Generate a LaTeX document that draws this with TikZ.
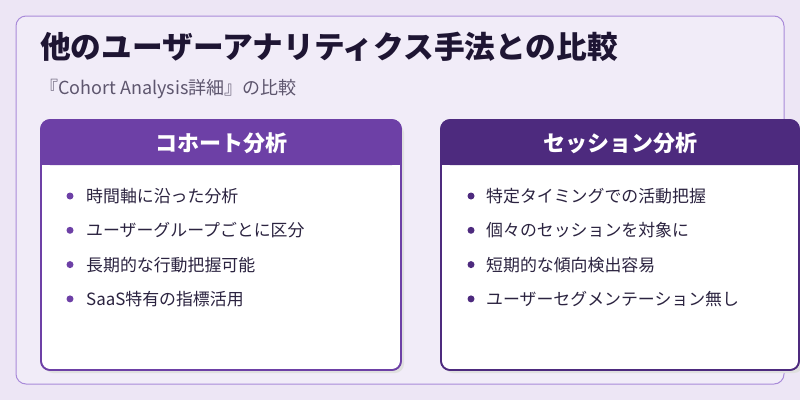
\documentclass[tikz,border=0pt]{standalone}
\usepackage{fontspec}
\setmainfont{Noto Sans CJK JP}
\definecolor{bg}{HTML}{EDE6F5}
\definecolor{panel}{HTML}{F1ECF8}
\definecolor{pborder}{HTML}{A98BD9}
\definecolor{hleft}{HTML}{6D40A6}
\definecolor{hright}{HTML}{4D2A7E}
\definecolor{ttl}{HTML}{1E1533}
\definecolor{sub}{HTML}{5E566E}
\definecolor{txt}{HTML}{2B2340}
\tikzset{
  card/.style={draw=#1,line width=1.6pt,fill=white,rounded corners=9pt},
  bul/.style={circle,fill=#1,inner sep=0pt,minimum size=7pt},
  item/.style={anchor=west,font=\fontsize{16.9}{19}\selectfont,text=txt,inner sep=0pt},
  head/.style={font=\bfseries\fontsize{22}{25}\selectfont,text=white}
}
\begin{document}
\begin{tikzpicture}[x=1pt,y=-1pt]
\useasboundingbox (0,0) rectangle (800,400);
\fill[bg] (0,0) rectangle (800,400);
\draw[pborder,fill=panel,line width=1pt,rounded corners=10pt] (16,16) rectangle (784,384);
\node[anchor=west,font=\bfseries\fontsize{30.7}{33}\selectfont,text=ttl,inner sep=0pt] (title) at (40,47) {他のユーザーアナリティクス手法との比較};
\node[anchor=west,font=\fontsize{18}{21}\selectfont,text=sub,inner sep=0pt] (subt) at (40,89) {『Cohort Analysis詳細』の比較};
% shadows
\fill[black!12,rounded corners=9pt] (44,124) rectangle (404,373);
\fill[black!12,rounded corners=9pt] (444,124) rectangle (803,373);
% left card
\draw[card=hleft] (41,120) rectangle (401,370);
\fill[hleft,rounded corners=9pt] (41,120) rectangle (401,165);
\fill[hleft] (41,150) rectangle (401,165);
\draw[hleft,line width=1.6pt,rounded corners=9pt] (41,120) rectangle (401,370);
\node[head] (lh) at (221,143) {コホート分析};
% right card
\draw[card=hright] (441,120) rectangle (799,370);
\fill[hright,rounded corners=9pt] (441,120) rectangle (799,165);
\fill[hright] (441,150) rectangle (799,165);
\draw[hright,line width=1.6pt,rounded corners=9pt] (441,120) rectangle (799,370);
\node[head] (rh) at (620,143) {セッション分析};
% items
\foreach \t [count=\i] in {時間軸に沿った分析,ユーザーグループごとに区分,長期的な行動把握可能,SaaS特有の指標活用}{
  \node[bul=hleft] (lb\i) at (70,{196+34.3*(\i-1)}) {};
  \node[item] (li\i) at (86,{196+34.3*(\i-1)}) {\t};
}
\foreach \t [count=\i] in {特定タイミングでの活動把握,個々のセッションを対象に,短期的な傾向検出容易,ユーザーセグメンテーション無し}{
  \node[bul=hright] (rb\i) at (471,{196+34.3*(\i-1)}) {};
  \node[item] (ri\i) at (486,{196+34.3*(\i-1)}) {\t};
}
\end{tikzpicture}
\end{document}
